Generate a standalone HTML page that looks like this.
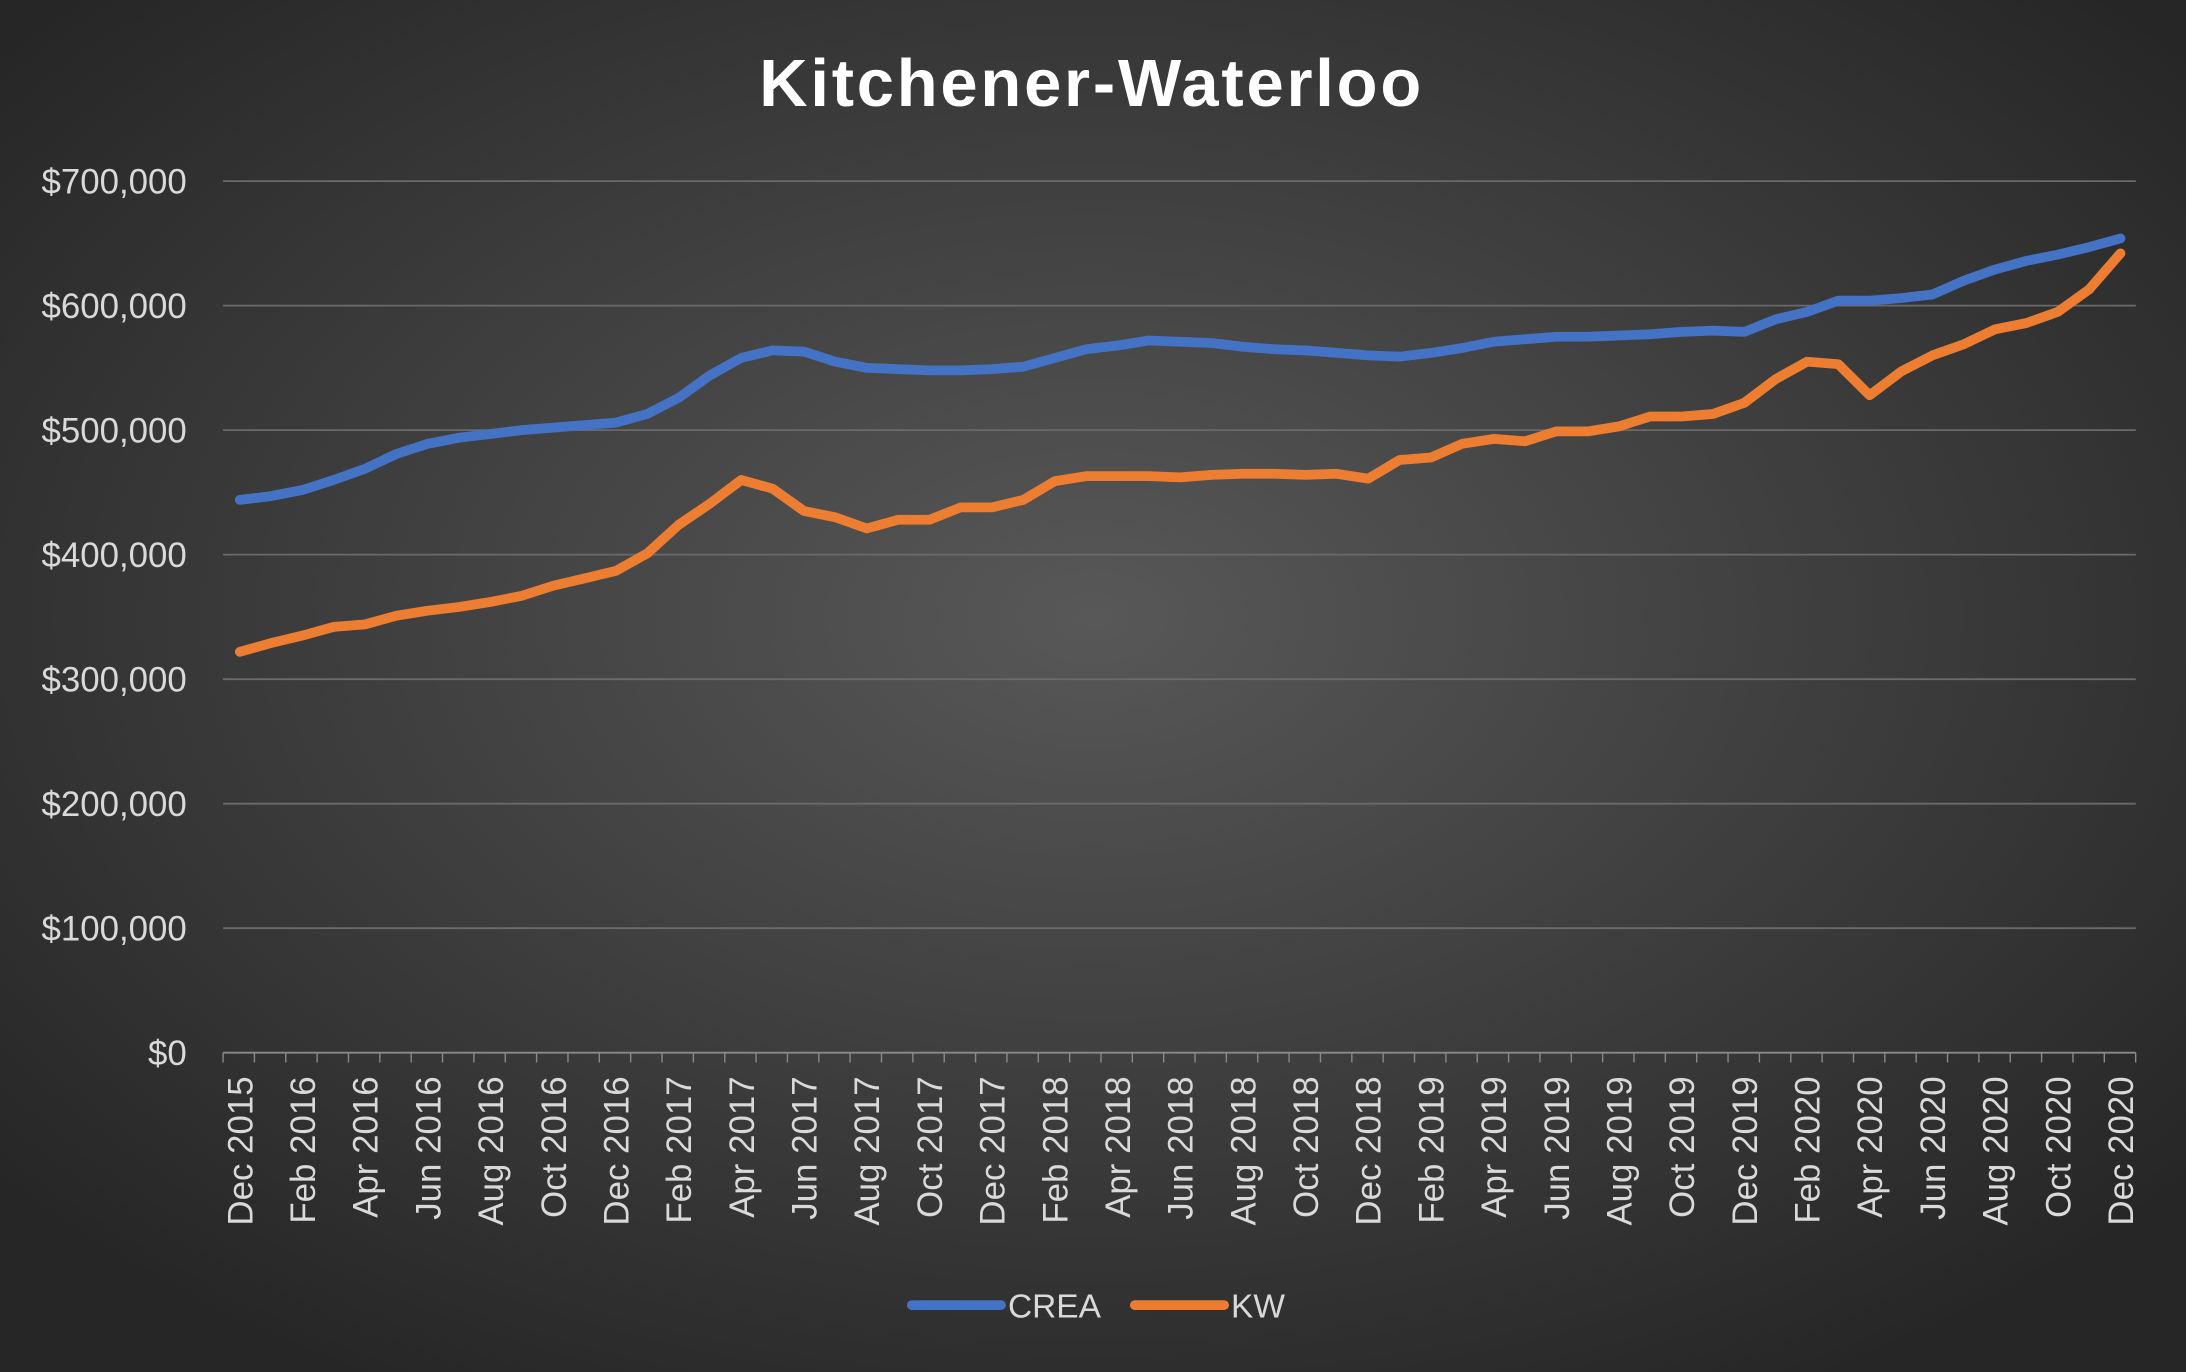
<!DOCTYPE html>
<html><head><meta charset="utf-8"><style>
html,body{margin:0;padding:0;background:#3a3a3a}
svg{display:block}
</style></head><body>
<svg id="c" width="2186" height="1372" viewBox="0 0 1568 984" preserveAspectRatio="none" xmlns="http://www.w3.org/2000/svg" font-family="Liberation Sans, sans-serif">
<defs><radialGradient id="bg" cx="50%" cy="45%" r="65%"><stop offset="0" stop-color="#585858"/><stop offset="1" stop-color="#262626"/></radialGradient></defs>
<rect width="1568" height="984" fill="url(#bg)"/>
<text x="783" y="76" text-anchor="middle" fill="#fff" font-size="48" font-weight="bold" letter-spacing="2">Kitchener-Waterloo</text>
<g id="g"></g>
</svg>
<script>
var crea=[444,447,452,460,469,481,489,494,497,500,502,504,506,513,526,544,558,564,563,555,550,549,548,548,549,551,558,565,568,572,571,570,567,565,564,562,560,559,562,566,571,573,575,575,576,577,579,580,579,589,595,604,604,606,609,620,629,636,641,647,654];
var kw=[322,329,335,342,344,351,355,358,362,367,375,381,387,401,424,441,460,453,435,430,421,428,428,438,438,444,459,463,463,463,462,464,465,465,464,465,461,476,478,489,493,491,499,499,503,511,511,513,522,541,555,553,528,547,560,569,581,586,595,613,642];
var months=["Dec","Feb","Apr","Jun","Aug","Oct"];
var s="";
function Y(v){return 755-v*0.893;}
function X(i){return 172+i*22.483;}
for(var k=1;k<=7;k++){var y=Y(k*100);s+='<line x1="160" x2="1532" y1="'+y+'" y2="'+y+'" stroke="#6a6a6a" stroke-width="1.3"/>';}
for(var k=0;k<=7;k++){var y=Y(k*100);var t=k==0?"$0":"$"+k+"00,000";s+='<text x="134" y="'+(y+9)+'" text-anchor="end" fill="#d9d9d9" font-size="25">'+t+'</text>';}
s+='<line x1="160" x2="1532" y1="755" y2="755" stroke="#8a8a8a" stroke-width="1.3"/>';
for(var i=0;i<=61;i++){var x=160+i*22.49;s+='<line x1="'+x+'" x2="'+x+'" y1="755" y2="762" stroke="#8a8a8a" stroke-width="1"/>';}
for(var i=0;i<61;i+=2){var yr=2015+Math.floor((i+11)/12);var m=months[(i/2)%6];var x=X(i)+9;
s+='<text transform="translate('+x+',772) rotate(-90)" text-anchor="end" fill="#d9d9d9" font-size="25">'+m+' '+yr+'</text>';}
function line(d,c){var p=d.map(function(v,i){return X(i).toFixed(1)+","+Y(v).toFixed(1)}).join(" ");return '<polyline points="'+p+'" fill="none" stroke="'+c+'" stroke-width="7" stroke-linejoin="round" stroke-linecap="round"/>';}
s+=line(crea,"#4472c4")+line(kw,"#ed7d31");
s+='<line x1="654" x2="718" y1="936" y2="936" stroke="#4472c4" stroke-width="7" stroke-linecap="round"/><text x="723" y="945" fill="#d9d9d9" font-size="24">CREA</text>';
s+='<line x1="814" x2="878" y1="936" y2="936" stroke="#ed7d31" stroke-width="7" stroke-linecap="round"/><text x="883" y="945" fill="#d9d9d9" font-size="24">KW</text>';
document.getElementById("g").innerHTML=s;
</script>
</body></html>
